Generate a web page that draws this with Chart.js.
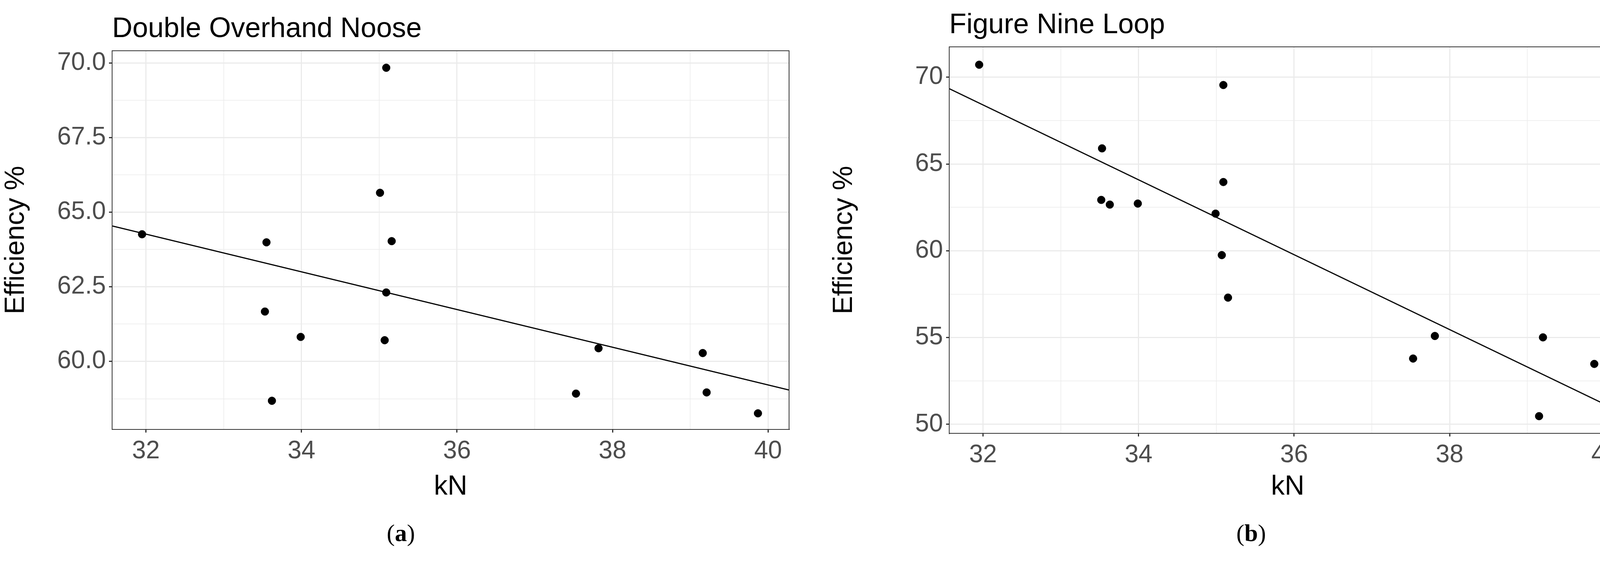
<!DOCTYPE html>
<html>
<head>
<meta charset="utf-8">
<script src="https://cdn.jsdelivr.net/npm/chart.js@4"></script>
<style>
  body { margin: 0; background: #fff; width: 4181px; height: 1437px; position: relative; overflow: hidden; }
  canvas { position: absolute; top: 0; }
  .cap { position: absolute; top: 1330px; font: 62px "Liberation Serif", serif; color: #000; }
</style>
</head>
<body>
<canvas id="ca" width="2060" height="1290" style="left:0;width:2060px;height:1290px"></canvas>
<canvas id="cb" width="2061" height="1290" style="left:2120px;width:2061px;height:1290px"></canvas>
<div class="cap" style="left:990px">(<b>a</b>)</div>
<div class="cap" style="left:3165px">(<b>b</b>)</div>
<script>
// Double Overhand Noose
const kNA = [35.09, 35.01, 31.95, 33.55, 35.16, 35.09, 33.53, 33.99, 35.07, 37.82, 39.16, 33.62, 37.53, 39.21, 39.87];
const effA = [69.84, 65.65, 64.26, 63.99, 64.03, 62.31, 61.67, 60.82, 60.71, 60.44, 60.28, 58.68, 58.92, 58.96, 58.26];
const fitA = [[31.565, 64.54], [40.27, 59.04]];

// Figure Nine Loop
const kNB = [31.95, 35.09, 33.53, 35.09, 33.52, 33.63, 33.99, 34.99, 35.07, 35.15, 37.81, 37.53, 39.20, 39.86, 39.15];
const effB = [70.72, 69.55, 65.90, 63.96, 62.93, 62.66, 62.72, 62.14, 59.75, 57.30, 55.09, 53.79, 55.01, 53.48, 50.47];
const fitB = [[31.565, 69.34], [40.27, 50.56]];

const xTicks = [32, 34, 36, 38, 40];

const FONT = '"Liberation Sans", Arial, sans-serif';

const titlePlugin = {
  id: 'leftTitle',
  afterDraw(chart, args, opts) {
    const c = chart.ctx;
    const a = chart.chartArea;
    c.save();
    c.strokeStyle = '#333';
    c.lineWidth = 2;
    c.strokeRect(a.left, a.top, a.right - a.left, a.bottom - a.top);
    c.font = '72px ' + FONT;
    c.fillStyle = '#000';
    c.textBaseline = 'alphabetic';
    c.fillText(opts.text, a.left, opts.y);
    c.restore();
  }
};

function makeChart(id, xs, ys, fit, title, cfg) {
  const isMajorY = v => Math.abs((v - cfg.yBase) / cfg.yMajor - Math.round((v - cfg.yBase) / cfg.yMajor)) < 1e-6;
  return new Chart(document.getElementById(id), {
    type: 'scatter',
    data: {
      datasets: [
        {
          data: xs.map((x, i) => ({ x, y: ys[i] })),
          backgroundColor: '#000', borderColor: '#000',
          pointRadius: 10, pointHoverRadius: 10
        },
        {
          type: 'line',
          data: fit.map(p => ({ x: p[0], y: p[1] })),
          borderColor: '#000', borderWidth: 3, pointRadius: 0, fill: false
        }
      ]
    },
    plugins: [titlePlugin],
    options: {
      responsive: false, maintainAspectRatio: false, animation: false, devicePixelRatio: 1,
      layout: { padding: { top: cfg.top, right: cfg.right, left: 0, bottom: 0 } },
      plugins: { legend: { display: false }, tooltip: { enabled: false }, leftTitle: { text: title, y: cfg.titleY } },
      scales: {
        x: {
          type: 'linear', min: 31.565, max: 40.27,
          afterBuildTicks: ax => { ax.ticks = []; for (let v = 32; v <= 40; v++) ax.ticks.push({ value: v }); },
          afterFit: ax => { ax.height = cfg.xh; },
          ticks: {
            font: { size: 64, family: FONT }, color: '#4d4d4d', padding: 10,
            callback: v => xTicks.includes(v) ? String(v) : ''
          },
          grid: {
            color: '#ebebeb', tickLength: 8, tickColor: c => xTicks.includes(c.tick.value) ? '#333' : 'rgba(0,0,0,0)',
            lineWidth: c => xTicks.includes(c.tick.value) ? 3 : 1.5
          },
          border: { color: '#333', width: 2 },
          title: { display: true, text: 'kN', font: { size: 70, family: FONT }, color: '#000', padding: 0 }
        },
        y: {
          min: cfg.ymin, max: cfg.ymax,
          afterBuildTicks: ax => {
            ax.ticks = [];
            const step = cfg.yMajor / 2;
            for (let v = cfg.yBase - step * 2; v <= cfg.ymax; v += step) if (v >= cfg.ymin) ax.ticks.push({ value: v });
          },
          afterFit: ax => { ax.width = cfg.yw; },
          ticks: {
            font: { size: 64, family: FONT }, color: '#4d4d4d', padding: 8,
            callback: v => isMajorY(v) ? v.toFixed(cfg.dec) : ''
          },
          grid: {
            color: '#ebebeb', tickLength: 8, tickColor: c => isMajorY(c.tick.value) ? '#333' : 'rgba(0,0,0,0)',
            lineWidth: c => isMajorY(c.tick.value) ? 3 : 1.5
          },
          border: { color: '#333', width: 2 },
          title: { display: true, text: 'Efficiency %', font: { size: 70, family: FONT }, color: '#000', padding: 0 }
        }
      }
    }
  });
}

makeChart('ca', kNA, effA, fitA, 'Double Overhand Noose',
  { top: 130, right: 40, xh: 190, yw: 287, ymin: 57.72, ymax: 70.41, yBase: 60, yMajor: 2.5, dec: 1, titleY: 95 });
makeChart('cb', kNB, effB, fitB, 'Figure Nine Loop',
  { top: 120, right: 18, xh: 180, yw: 310, ymin: 49.48, ymax: 71.75, yBase: 50, yMajor: 5, dec: 0, titleY: 85 });
</script>
</body>
</html>
